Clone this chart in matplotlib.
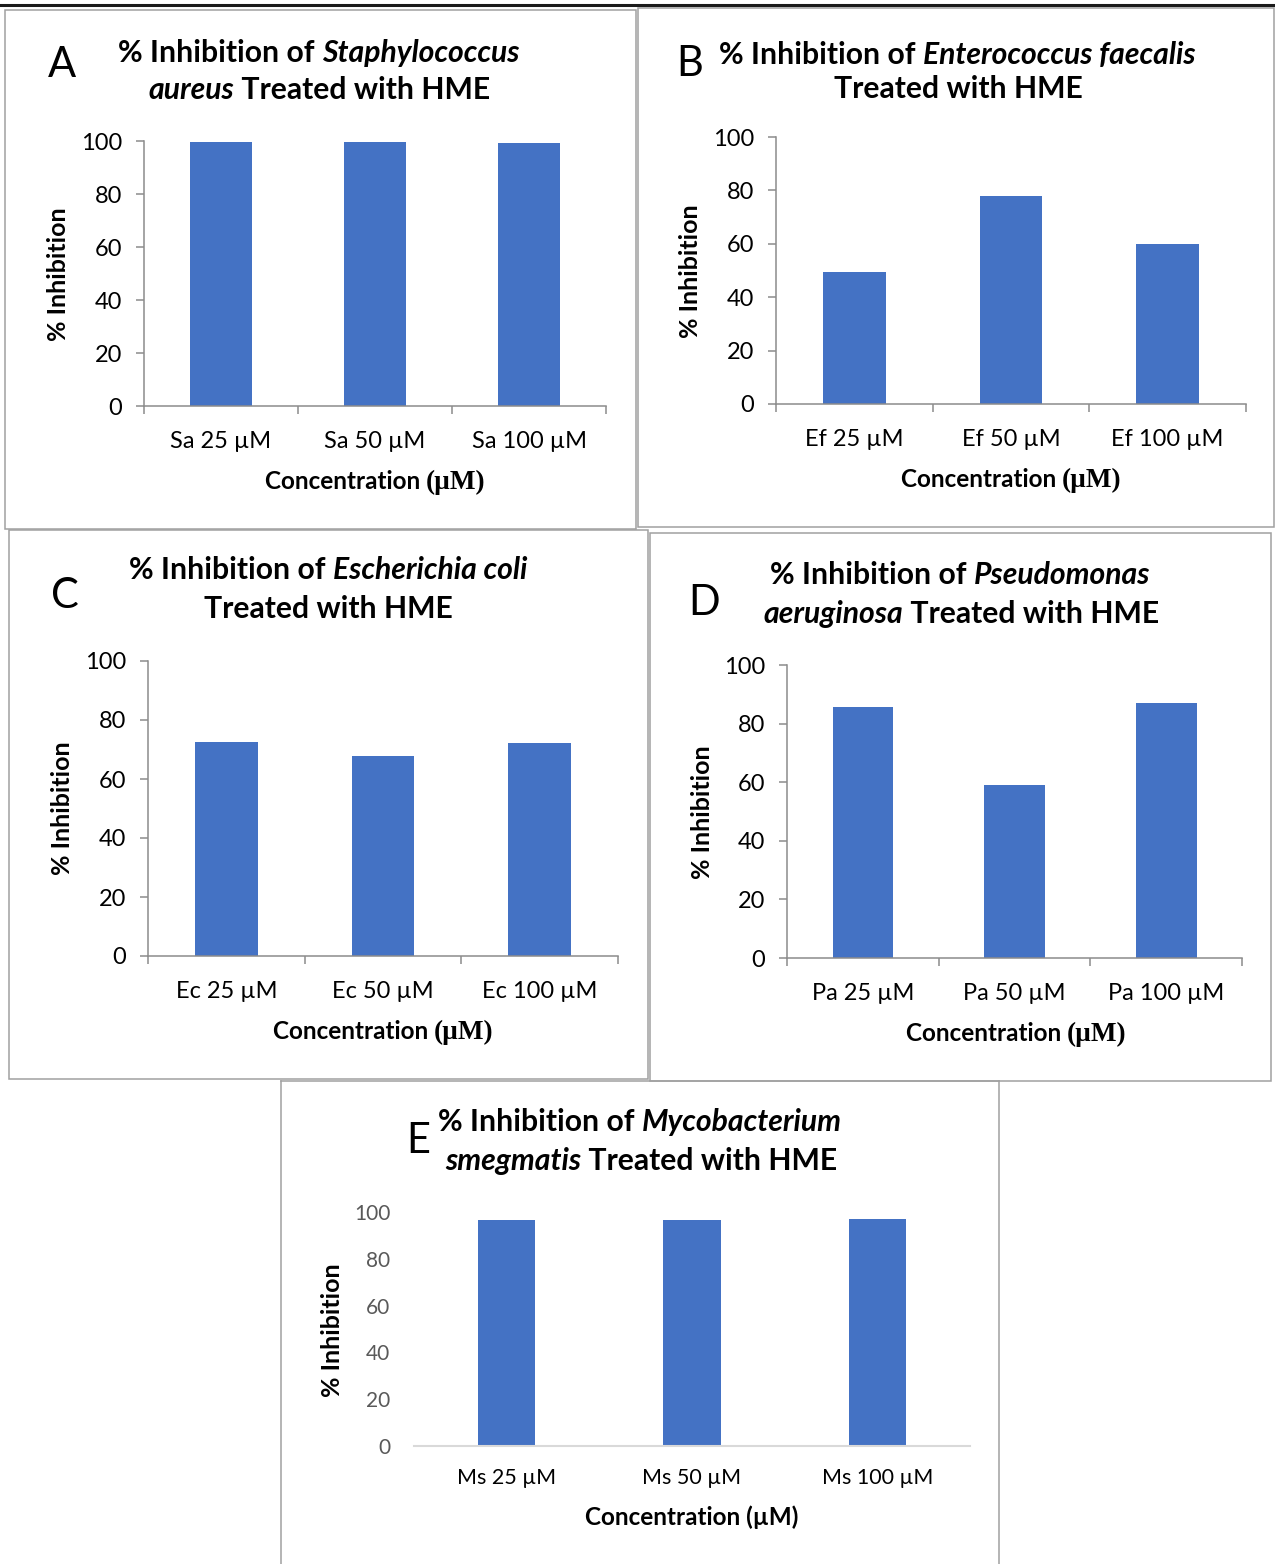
import numpy as np
import matplotlib
matplotlib.use("Agg")
import matplotlib.pyplot as plt
from matplotlib.transforms import IdentityTransform
from matplotlib.patches import Rectangle
from matplotlib.lines import Line2D

# ── data ───────────────────────────────────────────────────────────────────────
sa_labels = ["Sa 25 µM", "Sa 50 µM", "Sa 100 µM"]
sa_values = [99.6, 99.6, 99.3]

ef_labels = ["Ef 25 µM", "Ef 50 µM", "Ef 100 µM"]
ef_values = [49.4, 78.0, 59.9]

ec_labels = ["Ec 25 µM", "Ec 50 µM", "Ec 100 µM"]
ec_values = [72.5, 67.8, 72.2]

pa_labels = ["Pa 25 µM", "Pa 50 µM", "Pa 100 µM"]
pa_values = [85.7, 59.0, 87.0]

ms_labels = ["Ms 25 µM", "Ms 50 µM", "Ms 100 µM"]
ms_values = [96.6, 96.6, 97.0]

y_ticks = [0, 20, 40, 60, 80, 100]

# ── layout / style ─────────────────────────────────────────────────────────────
W, H, DPI = 1275, 1564, 100
SANS = ["Lato", "DejaVu Sans"]
SERIF = ["Liberation Serif", "DejaVu Serif"]
BAR = "#4472C4"
AXIS = "#8C8C8C"
FRAME = "#A0A0A0"
TITLE_SIZE = 21.7
LABEL_SIZE = 17.5

fig = plt.figure(figsize=(W / DPI, H / DPI), dpi=DPI)
fig.patch.set_facecolor("white")
renderer = fig.canvas.get_renderer()
PX = IdentityTransform()


def px_box(left, top, right, bottom):
    return [left / W, 1 - bottom / H, (right - left) / W, (bottom - top) / H]


def text_runs(runs, xc, ybase, size, weight="bold", color="black"):
    """Lay out mixed-style pieces of text on one baseline, centred on xc (pixels)."""
    pieces = []
    for run in runs:
        s, family, style = run[:3]
        fs = run[3] if len(run) > 3 else size
        t = fig.text(0, 0, s, transform=PX, fontsize=fs, fontweight=weight,
                     style=style, family=family, color=color,
                     ha="left", va="baseline")
        pieces.append(t)
    widths = [t.get_window_extent(renderer).width for t in pieces]
    x = xc - sum(widths) / 2
    for t, w in zip(pieces, widths):
        t.set_position((x, H - ybase))
        x += w


def frame(x0, y0, x1, y1, open_bottom=False):
    if open_bottom:
        for xs, ys in [([x0, x1], [y0, y0]), ([x0, x0], [y0, y1]), ([x1, x1], [y0, y1])]:
            fig.add_artist(Line2D(xs, [H - y for y in ys], transform=PX,
                                  color=FRAME, lw=1.1))
    else:
        fig.add_artist(Rectangle((x0, H - y1), x1 - x0, y1 - y0, transform=PX,
                                 fill=False, edgecolor=FRAME, lw=1.1))


def bar_panel(box, labels, values, bar_w, light=False):
    ax = fig.add_axes(px_box(*box))
    x = np.arange(len(values))
    ax.bar(x, values, width=bar_w, color=BAR, zorder=2)
    ax.set_xlim(-0.5, len(values) - 0.5)
    ax.set_ylim(0, 100)
    ax.set_yticks(y_ticks)
    ax.set_xticks(x, labels, minor=True)
    for s in ("top", "right"):
        ax.spines[s].set_visible(False)
    if light:
        # plain style: no y axis line, no tick marks, grey tick text
        ax.spines["left"].set_visible(False)
        ax.spines["bottom"].set_color("#D9D9D9")
        ax.spines["bottom"].set_linewidth(1.5)
        ax.set_xticks([])
        ax.tick_params(axis="y", length=0, pad=17, labelsize=15, labelcolor="#595959")
        ax.tick_params(axis="x", which="minor", length=0, pad=16, labelsize=15.5)
    else:
        ax.set_xticks(np.arange(len(values) + 1) - 0.5, [""] * (len(values) + 1))
        for s in ("left", "bottom"):
            ax.spines[s].set_color(AXIS)
            ax.spines[s].set_linewidth(1.1)
        ax.tick_params(axis="y", length=6, width=1.1, color=AXIS, pad=10, labelsize=17)
        ax.tick_params(axis="x", which="major", length=6, width=1.1, color=AXIS)
        ax.tick_params(axis="x", which="minor", length=0, pad=18, labelsize=17)
    for lab in ax.get_yticklabels() + ax.get_xticklabels(minor=True):
        lab.set_family(SANS)
    return ax


def letter(s, x, ybase):
    fig.text(x, H - ybase, s, transform=PX, fontsize=30, family=SANS,
             ha="center", va="baseline")


def ylabel(x, yc, size=18):
    fig.text(x, H - yc, "% Inhibition", transform=PX, fontsize=size, family=SANS,
             fontweight="bold", rotation=90, ha="center", va="center")


def xlabel(xc, ybase, serif_unit=True, size=LABEL_SIZE):
    if serif_unit:
        text_runs([("Concentration ", SANS, "normal"), ("(µM)", SERIF, "normal", size + 2)],
                  xc, ybase, size)
    else:
        text_runs([("Concentration (µM)", SANS, "normal")], xc, ybase, size)


# ── outer rule and panel frames ────────────────────────────────────────────────
fig.add_artist(Line2D([0, W], [H - 5, H - 5], transform=PX, color="#1a1a1a", lw=2.2))
frame(5, 10, 636, 529)
frame(638, 8, 1274, 527)
frame(9, 530, 648, 1079)
frame(650, 533, 1271, 1081)
frame(281, 1081, 999, 1570, open_bottom=True)

# ── A: Staphylococcus aureus ───────────────────────────────────────────────────
bar_panel((144, 141, 606, 406), sa_labels, sa_values, 0.40)
letter("A", 62, 77)
text_runs([("% Inhibition of ", SANS, "normal"), ("Staphylococcus", SANS, "italic")], 319, 62, TITLE_SIZE)
text_runs([("aureus", SANS, "italic"), (" Treated with HME", SANS, "normal")], 319, 99, TITLE_SIZE)
ylabel(58, 274)
xlabel(375, 489)

# ── B: Enterococcus faecalis ───────────────────────────────────────────────────
bar_panel((776, 137, 1246, 404), ef_labels, ef_values, 0.40)
letter("B", 690, 76)
text_runs([("% Inhibition of ", SANS, "normal"), ("Enterococcus faecalis", SANS, "italic")], 957, 64, TITLE_SIZE)
text_runs([("Treated with HME", SANS, "normal")], 958, 98, TITLE_SIZE)
ylabel(690, 271)
xlabel(1011, 487)

# ── C: Escherichia coli ────────────────────────────────────────────────────────
bar_panel((148, 661, 618, 956), ec_labels, ec_values, 0.40)
letter("C", 65, 608)
text_runs([("% Inhibition of ", SANS, "normal"), ("Escherichia coli", SANS, "italic")], 328, 579, TITLE_SIZE)
text_runs([("Treated with HME", SANS, "normal")], 328, 618, TITLE_SIZE)
ylabel(62, 808)
xlabel(383, 1039)

# ── D: Pseudomonas aeruginosa ──────────────────────────────────────────────────
bar_panel((787, 665, 1242, 958), pa_labels, pa_values, 0.40)
letter("D", 704, 615)
text_runs([("% Inhibition of ", SANS, "normal"), ("Pseudomonas", SANS, "italic")], 960, 584, TITLE_SIZE)
text_runs([("aeruginosa", SANS, "italic"), (" Treated with HME", SANS, "normal")], 961, 623, TITLE_SIZE)
ylabel(702, 812)
xlabel(1016, 1041)

# ── E: Mycobacterium smegmatis ─────────────────────────────────────────────────
bar_panel((414, 1212, 970, 1446), ms_labels, ms_values, 0.31, light=True)
letter("E", 418, 1153)
text_runs([("% Inhibition of ", SANS, "normal"), ("Mycobacterium", SANS, "italic")], 640, 1131, TITLE_SIZE)
text_runs([("smegmatis", SANS, "italic"), (" Treated with HME", SANS, "normal")], 641, 1170, TITLE_SIZE)
ylabel(333, 1330)
xlabel(692, 1525, serif_unit=False)

fig.savefig("out.png", dpi=DPI, facecolor="white")
